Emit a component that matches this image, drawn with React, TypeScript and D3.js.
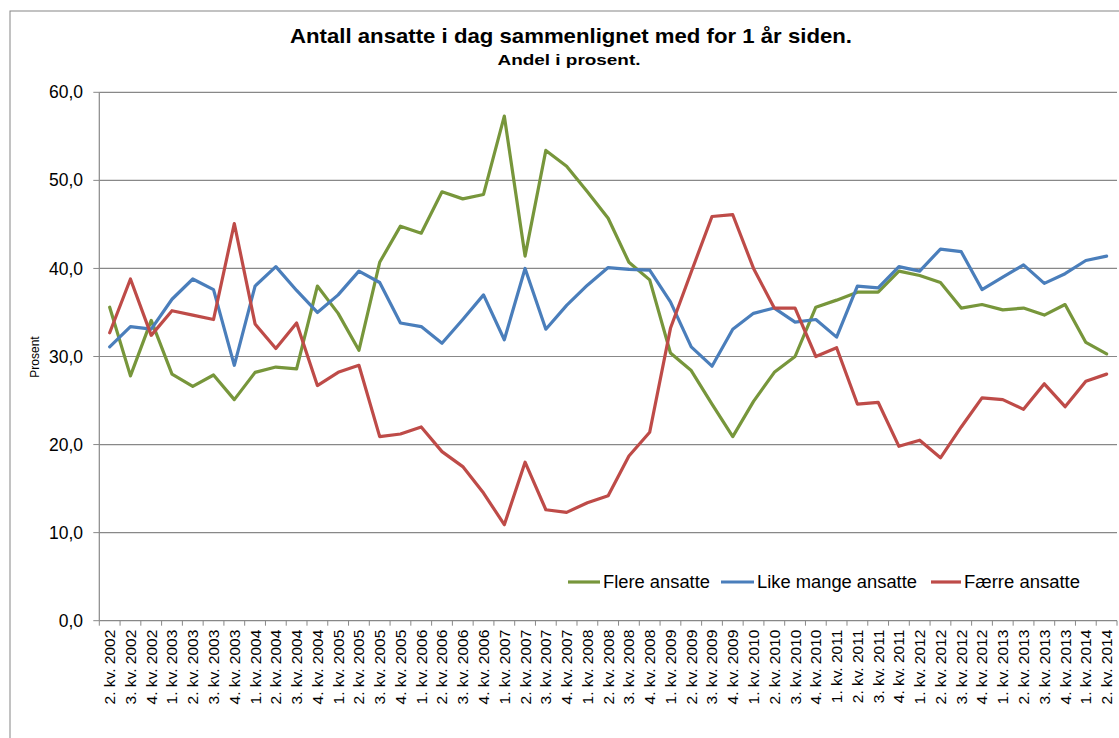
import React from "react";
import * as d3 from "d3";

const years = [2002, 2003, 2004, 2005, 2006, 2007, 2008, 2009, 2010, 2011, 2012, 2013, 2014];
const categories: string[] = [];
years.forEach((y) => {
  [1, 2, 3, 4].forEach((q) => {
    if ((y === 2002 && q === 1) || (y === 2014 && q > 2)) return;
    categories.push(`${q}. kv. ${y}`);
  });
});

const flere = [35.6, 27.8, 34.1, 28.0, 26.6, 27.9, 25.1, 28.2, 28.8, 28.6, 38.0, 34.9, 30.7, 40.7, 44.8, 44.0, 48.7, 47.9, 48.4, 57.3, 41.4, 53.4, 51.6, 48.7, 45.7, 40.7, 38.7, 30.4, 28.4, 24.6, 20.9, 24.9, 28.2, 30.0, 35.6, 36.4, 37.3, 37.3, 39.7, 39.2, 38.4, 35.5, 35.9, 35.3, 35.5, 34.7, 35.9, 31.6, 30.3];
const like = [31.1, 33.4, 33.1, 36.5, 38.8, 37.6, 29.0, 38.0, 40.2, 37.5, 35.0, 37.0, 39.7, 38.4, 33.8, 33.4, 31.5, 34.2, 37.0, 31.9, 40.0, 33.1, 35.8, 38.1, 40.1, 39.9, 39.8, 36.2, 31.1, 28.9, 33.1, 34.9, 35.5, 33.9, 34.2, 32.2, 38.0, 37.8, 40.2, 39.7, 42.2, 41.9, 37.6, 39.0, 40.4, 38.3, 39.4, 40.9, 41.4];
const faerre = [32.7, 38.8, 32.4, 35.2, 34.7, 34.2, 45.1, 33.7, 30.9, 33.8, 26.7, 28.2, 29.0, 20.9, 21.2, 22.0, 19.2, 17.5, 14.5, 10.9, 18.0, 12.6, 12.3, 13.4, 14.2, 18.7, 21.4, 33.2, 39.6, 45.9, 46.1, 40.0, 35.5, 35.5, 30.0, 31.0, 24.6, 24.8, 19.8, 20.5, 18.5, 22.0, 25.3, 25.1, 24.0, 26.9, 24.3, 27.2, 28.0];

const yTicks = [0, 10, 20, 30, 40, 50, 60];

const seriesNames = ["Flere ansatte", "Like mange ansatte", "Færre ansatte"];
const seriesColors = ["#77963b", "#4a7ebb", "#be4b48"];
const seriesData = [flere, like, faerre];

const W = 1119;
const H = 738;
const left = 99.3;
const right = 1117;
const top = 92.3;
const bottom = 620.7;
const FONT = "Arial, 'Liberation Sans', sans-serif";

export default function App() {
  const x = d3.scaleBand<string>().domain(categories).range([left, right]).padding(0);
  const y = d3.scaleLinear().domain([0, 60]).range([bottom, top]);
  const line = d3
    .line<number>()
    .x((_, i) => (x(categories[i]) as number) + x.bandwidth() / 2)
    .y((d) => y(d));

  const legendItems = [
    { x0: 568, tx: 603, w: 107 },
    { x0: 721, tx: 757, w: 160 },
    { x0: 931, tx: 964, w: 116 },
  ];

  return (
    <svg
      width={W}
      height={H}
      style={{ position: "absolute", left: 0, top: 0, background: "#fff" }}
      fontFamily={FONT}
    >
      <rect x={10} y={11} width={W + 20} height={H + 20} fill="#fff" stroke="#868686" strokeWidth={1} />
      <text x={571} y={43} textAnchor="middle" fontSize={21} fontWeight="bold" fill="#000" textLength={562} lengthAdjust="spacingAndGlyphs">
        Antall ansatte i dag sammenlignet med for 1 år siden.
      </text>
      <text x={569} y={65} textAnchor="middle" fontSize={15.5} fontWeight="bold" fill="#000" textLength={143} lengthAdjust="spacingAndGlyphs">
        Andel i prosent.
      </text>

      {yTicks.map((t) => (
        <g key={t}>
          {t > 0 && (
            <line x1={left} x2={right} y1={y(t)} y2={y(t)} stroke="#888" strokeWidth={1.2} />
          )}
          <line x1={left - 6} x2={left} y1={y(t)} y2={y(t)} stroke="#888" strokeWidth={1} />
          <text x={83} y={y(t)} dy="0.35em" textAnchor="end" fontSize={17.5} fill="#000">
            {t.toFixed(1).replace(".", ",")}
          </text>
        </g>
      ))}
      <line x1={left} x2={left} y1={top} y2={bottom} stroke="#888" strokeWidth={1.2} />
      <line x1={left} x2={right} y1={bottom} y2={bottom} stroke="#888" strokeWidth={1.2} />
      {categories.map((c, i) => (
        <line
          key={"t" + i}
          x1={x(c) as number}
          x2={x(c) as number}
          y1={bottom}
          y2={bottom + 5}
          stroke="#888"
          strokeWidth={1}
        />
      ))}
      <line x1={right} x2={right} y1={bottom} y2={bottom + 5} stroke="#888" strokeWidth={1} />
      {categories.map((c, i) => {
        const cx = (x(c) as number) + x.bandwidth() / 2;
        return (
          <text
            key={"l" + i}
            transform={`translate(${cx + 5.5},${bottom + 9}) rotate(-90)`}
            textAnchor="end"
            fontSize={15.5}
            fill="#000"
          >
            {c}
          </text>
        );
      })}
      <text transform={`translate(39,357) rotate(-90)`} textAnchor="middle" fontSize={12} fill="#000">
        Prosent
      </text>

      {seriesData.map((s, k) => (
        <path
          key={k}
          d={line(s) || ""}
          fill="none"
          stroke={seriesColors[k]}
          strokeWidth={3.2}
          strokeLinejoin="round"
          strokeLinecap="round"
        />
      ))}

      {seriesNames.map((n, k) => (
        <g key={n}>
          <line
            x1={legendItems[k].x0}
            x2={legendItems[k].tx - 3}
            y1={582}
            y2={582}
            stroke={seriesColors[k]}
            strokeWidth={3.2}
          />
          <text
            x={legendItems[k].tx}
            y={582}
            dy="0.35em"
            fontSize={17.5}
            fill="#000"
            textLength={legendItems[k].w}
            lengthAdjust="spacingAndGlyphs"
          >
            {n}
          </text>
        </g>
      ))}
    </svg>
  );
}
